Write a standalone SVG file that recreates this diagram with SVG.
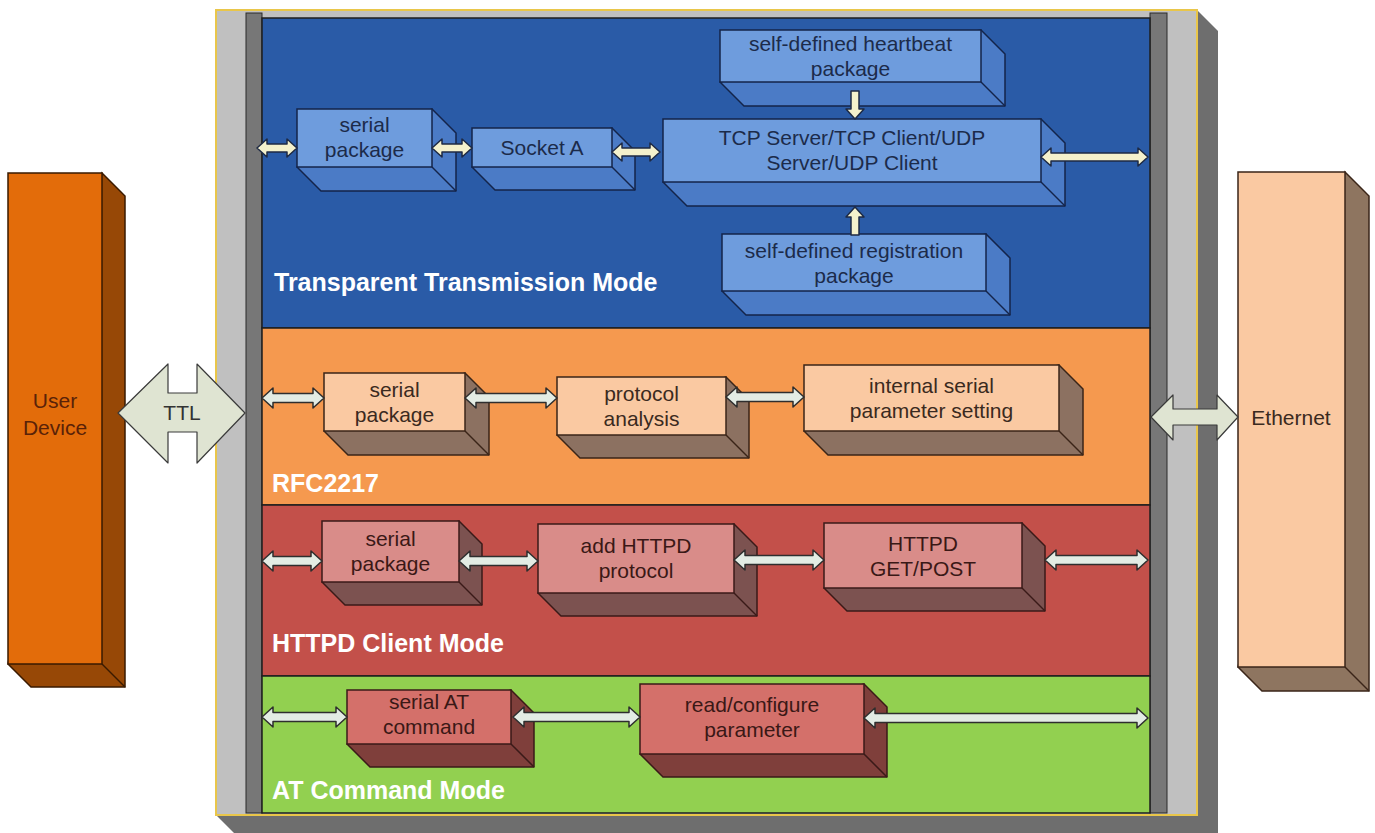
<svg xmlns="http://www.w3.org/2000/svg" width="1375" height="833" viewBox="0 0 1375 833">
<style>
text{font-family:"Liberation Sans",Arial,sans-serif}
.title{font-size:25px;font-weight:bold;fill:#ffffff}
.bt{font-size:21px;text-anchor:middle}
.tb{fill:#1c2b4a}.to{fill:#3a2a20}.tr{fill:#3a1816}
.fb{fill:#6e9cdd;stroke:#14244a;stroke-width:1.5}
.eb{fill:#4b7bc6;stroke:#14244a;stroke-width:1.5;stroke-linejoin:round}
.fo{fill:#fac9a2;stroke:#3a2518;stroke-width:1.5}
.eo{fill:#8c7161;stroke:#3a2518;stroke-width:1.5;stroke-linejoin:round}
.fr{fill:#d98c89;stroke:#3a1a18;stroke-width:1.5}
.er{fill:#7c5250;stroke:#3a1a18;stroke-width:1.5;stroke-linejoin:round}
.fg{fill:#d4706a;stroke:#3a1a18;stroke-width:1.5}
.eg{fill:#7f3f3b;stroke:#3a1a18;stroke-width:1.5;stroke-linejoin:round}
.panel{stroke:#1e1e1e;stroke-width:1.5}
.abl{fill:#f4f1cc;stroke:#1e2a44;stroke-width:1.5;stroke-linejoin:round}
.aot{fill:#e3ece4;stroke:#2e2e2e;stroke-width:1.5;stroke-linejoin:round}
.big{fill:#dfe4d2;stroke:#3a3a3a;stroke-width:1.2;stroke-linejoin:round}
</style>
<rect width="1375" height="833" fill="#ffffff"/>
<g id="frame">
<path d="M1197,10 L1218,31 L1218,836 L237,836 L216,815 L1197,815 Z" fill="#6e6e6e"/>
<rect x="216" y="10" width="981" height="805" fill="#c0c0c0" stroke="#e9c64a" stroke-width="2"/>
<rect x="246" y="13" width="16" height="800" fill="#777777" stroke="#2a2a2a" stroke-width="1"/>
<rect x="1150" y="13" width="17" height="800" fill="#777777" stroke="#2a2a2a" stroke-width="1"/>
</g>
<g id="panel-transparent">
<rect class="panel" x="262" y="18" width="888" height="310" fill="#2a5ba7"/>
<text class="title" x="274" y="291">Transparent Transmission Mode</text>
</g>
<g id="panel-rfc2217">
<rect class="panel" x="262" y="328" width="888" height="177" fill="#f5994f"/>
<text class="title" x="272" y="492">RFC2217</text>
</g>
<g id="panel-httpd">
<rect class="panel" x="262" y="505" width="888" height="171" fill="#c3504a"/>
<text class="title" x="272" y="652">HTTPD Client Mode</text>
</g>
<g id="panel-at">
<rect class="panel" x="262" y="676" width="888" height="137" fill="#92d050"/>
<text class="title" x="272" y="799">AT Command Mode</text>
</g>
<g id="user-device">
<path d="M102,173 L125,196 L125,687 L31,687 L8,664 Z" fill="#974806" stroke="#3a1a00" stroke-width="1.5"/>
<path d="M102,664 L125,687" stroke="#3a1a00" stroke-width="1.5"/>
<rect x="8" y="173" width="94" height="491" fill="#e36c0a" stroke="#3a1a00" stroke-width="1.5"/>
<text class="bt" x="55" y="408" fill="#5a2208" font-size="20">User</text>
<text class="bt" x="55" y="435" fill="#5a2208" font-size="20">Device</text>
</g>
<g id="ethernet">
<path d="M1345,172 L1369,196 L1369,691 L1262,691 L1238,667 Z" fill="#8e7560" stroke="#3a2518" stroke-width="1.5"/>
<path d="M1345,667 L1369,691" stroke="#3a2518" stroke-width="1.5"/>
<rect x="1238" y="172" width="107" height="495" fill="#fac9a2" stroke="#3a2518" stroke-width="1.5"/>
<text class="bt" x="1291" y="425" fill="#3a2a20">Ethernet</text>
</g>
<g id="tt-serial-package">
<path class="eb" d="M432,109 L456,133 L456,191 L321,191 L297,167 Z"/><path class="eb" d="M432,167 L456,191"/>
<rect class="fb" x="297" y="109" width="135" height="58"/>
<text class="bt tb" x="364.5" y="132">serial</text><text class="bt tb" x="364.5" y="157">package</text>
</g>
<g id="tt-socket-a">
<path class="eb" d="M612,128 L635,151 L635,190 L495,190 L472,167 Z"/><path class="eb" d="M612,167 L635,190"/>
<rect class="fb" x="472" y="128" width="140" height="39"/>
<text class="bt tb" x="542" y="155">Socket A</text>
</g>
<g id="tt-tcp-udp">
<path class="eb" d="M1041,119 L1065,143 L1065,206 L687,206 L663,182 Z"/><path class="eb" d="M1041,182 L1065,206"/>
<rect class="fb" x="663" y="119" width="378" height="63"/>
<text class="bt tb" x="852" y="145">TCP Server/TCP Client/UDP</text><text class="bt tb" x="852" y="170">Server/UDP Client</text>
</g>
<g id="tt-heartbeat">
<path class="eb" d="M981,30 L1005,54 L1005,106 L744,106 L720,82 Z"/><path class="eb" d="M981,82 L1005,106"/>
<rect class="fb" x="720" y="30" width="261" height="52"/>
<text class="bt tb" x="850.5" y="51">self-defined heartbeat</text><text class="bt tb" x="850.5" y="76">package</text>
</g>
<g id="tt-registration">
<path class="eb" d="M986,234 L1010,258 L1010,315 L746,315 L722,291 Z"/><path class="eb" d="M986,291 L1010,315"/>
<rect class="fb" x="722" y="234" width="264" height="57"/>
<text class="bt tb" x="854" y="257.5">self-defined registration</text><text class="bt tb" x="854" y="282.5">package</text>
</g>
<g id="rfc-serial-package">
<path class="eo" d="M465,373 L489,397 L489,455 L348,455 L324,431 Z"/><path class="eo" d="M465,431 L489,455"/>
<rect class="fo" x="324" y="373" width="141" height="58"/>
<text class="bt to" x="394.5" y="397">serial</text><text class="bt to" x="394.5" y="422">package</text>
</g>
<g id="rfc-protocol-analysis">
<path class="eo" d="M726,377 L749,400 L749,458 L580,458 L557,435 Z"/><path class="eo" d="M726,435 L749,458"/>
<rect class="fo" x="557" y="377" width="169" height="58"/>
<text class="bt to" x="641.5" y="401">protocol</text><text class="bt to" x="641.5" y="426">analysis</text>
</g>
<g id="rfc-internal-serial">
<path class="eo" d="M1059,365 L1083,389 L1083,455 L828,455 L804,431 Z"/><path class="eo" d="M1059,431 L1083,455"/>
<rect class="fo" x="804" y="365" width="255" height="66"/>
<text class="bt to" x="931.5" y="393">internal serial</text><text class="bt to" x="931.5" y="418">parameter setting</text>
</g>
<g id="httpd-serial-package">
<path class="er" d="M459,521 L482,544 L482,605 L345,605 L322,582 Z"/><path class="er" d="M459,582 L482,605"/>
<rect class="fr" x="322" y="521" width="137" height="61"/>
<text class="bt tr" x="390.5" y="546">serial</text><text class="bt tr" x="390.5" y="571">package</text>
</g>
<g id="httpd-add-protocol">
<path class="er" d="M734,524 L757,547 L757,616 L561,616 L538,593 Z"/><path class="er" d="M734,593 L757,616"/>
<rect class="fr" x="538" y="524" width="196" height="69"/>
<text class="bt tr" x="636" y="553">add HTTPD</text><text class="bt tr" x="636" y="578">protocol</text>
</g>
<g id="httpd-get-post">
<path class="er" d="M1022,523 L1045,546 L1045,611 L847,611 L824,588 Z"/><path class="er" d="M1022,588 L1045,611"/>
<rect class="fr" x="824" y="523" width="198" height="65"/>
<text class="bt tr" x="923" y="550.5">HTTPD</text><text class="bt tr" x="923" y="575.5">GET/POST</text>
</g>
<g id="at-serial-command">
<path class="eg" d="M511,690 L534,713 L534,767 L370,767 L347,744 Z"/><path class="eg" d="M511,744 L534,767"/>
<rect class="fg" x="347" y="690" width="164" height="54"/>
<text class="bt tr" x="429" y="709">serial AT</text><text class="bt tr" x="429" y="734">command</text>
</g>
<g id="at-read-configure">
<path class="eg" d="M864,684 L887,707 L887,777 L663,777 L640,754 Z"/><path class="eg" d="M864,754 L887,777"/>
<rect class="fg" x="640" y="684" width="224" height="70"/>
<text class="bt tr" x="752" y="712">read/configure</text><text class="bt tr" x="752" y="737">parameter</text>
</g>
<g id="connectors">
<path class="big" d="M118,413 L168,364 L168,393 L197,393 L197,364 L245,413 L197,463 L197,432 L168,432 L168,463 Z"/>
<text class="bt" x="182" y="420" fill="#333333" font-size="20">TTL</text>
<path class="big" d="M1151,417 L1173,395 L1173,409 L1217,409 L1217,395 L1238,417 L1217,440 L1217,425 L1173,425 L1173,440 Z"/>
<path class="abl" d="M257,148 L267,139 L267,144 L287,144 L287,139 L297,148 L287,157 L287,152 L267,152 L267,157 Z"/>
<path class="abl" d="M432,148 L442,139 L442,144 L462,144 L462,139 L472,148 L462,157 L462,152 L442,152 L442,157 Z"/>
<path class="abl" d="M612,152 L622,143 L622,148 L650,148 L650,143 L660,152 L650,161 L650,156 L622,156 L622,161 Z"/>
<path class="abl" d="M1041,157 L1051,148 L1051,153 L1138,153 L1138,148 L1148,157 L1138,166 L1138,161 L1051,161 L1051,166 Z"/>
<path class="abl" d="M851,91 L859,91 L859,109 L864,109 L855,119 L846,109 L851,109 Z"/>
<path class="abl" d="M855,207 L864,217 L859,217 L859,235 L851,235 L851,217 L846,217 Z"/>
<path class="aot" d="M262,398 L273,388 L273,393.5 L313,393.5 L313,388 L324,398 L313,408 L313,402.5 L273,402.5 L273,408 Z"/>
<path class="aot" d="M465,398 L476,388 L476,393.5 L546,393.5 L546,388 L557,398 L546,408 L546,402.5 L476,402.5 L476,408 Z"/>
<path class="aot" d="M726,397 L737,387 L737,392.5 L793,392.5 L793,387 L804,397 L793,407 L793,401.5 L737,401.5 L737,407 Z"/>
<path class="aot" d="M262,561 L273,551 L273,556.5 L311,556.5 L311,551 L322,561 L311,571 L311,565.5 L273,565.5 L273,571 Z"/>
<path class="aot" d="M459,561 L470,551 L470,556.5 L527,556.5 L527,551 L538,561 L527,571 L527,565.5 L470,565.5 L470,571 Z"/>
<path class="aot" d="M734,560 L745,550 L745,555.5 L813,555.5 L813,550 L824,560 L813,570 L813,564.5 L745,564.5 L745,570 Z"/>
<path class="aot" d="M1045,560 L1056,550 L1056,555.5 L1137,555.5 L1137,550 L1148,560 L1137,570 L1137,564.5 L1056,564.5 L1056,570 Z"/>
<path class="aot" d="M262,717 L273,707 L273,712.5 L336,712.5 L336,707 L347,717 L336,727 L336,721.5 L273,721.5 L273,727 Z"/>
<path class="aot" d="M513,717 L524,707 L524,712.5 L629,712.5 L629,707 L640,717 L629,727 L629,721.5 L524,721.5 L524,727 Z"/>
<path class="aot" d="M864,718 L875,708 L875,713.5 L1137,713.5 L1137,708 L1148,718 L1137,728 L1137,722.5 L875,722.5 L875,728 Z"/>
</g>
</svg>
